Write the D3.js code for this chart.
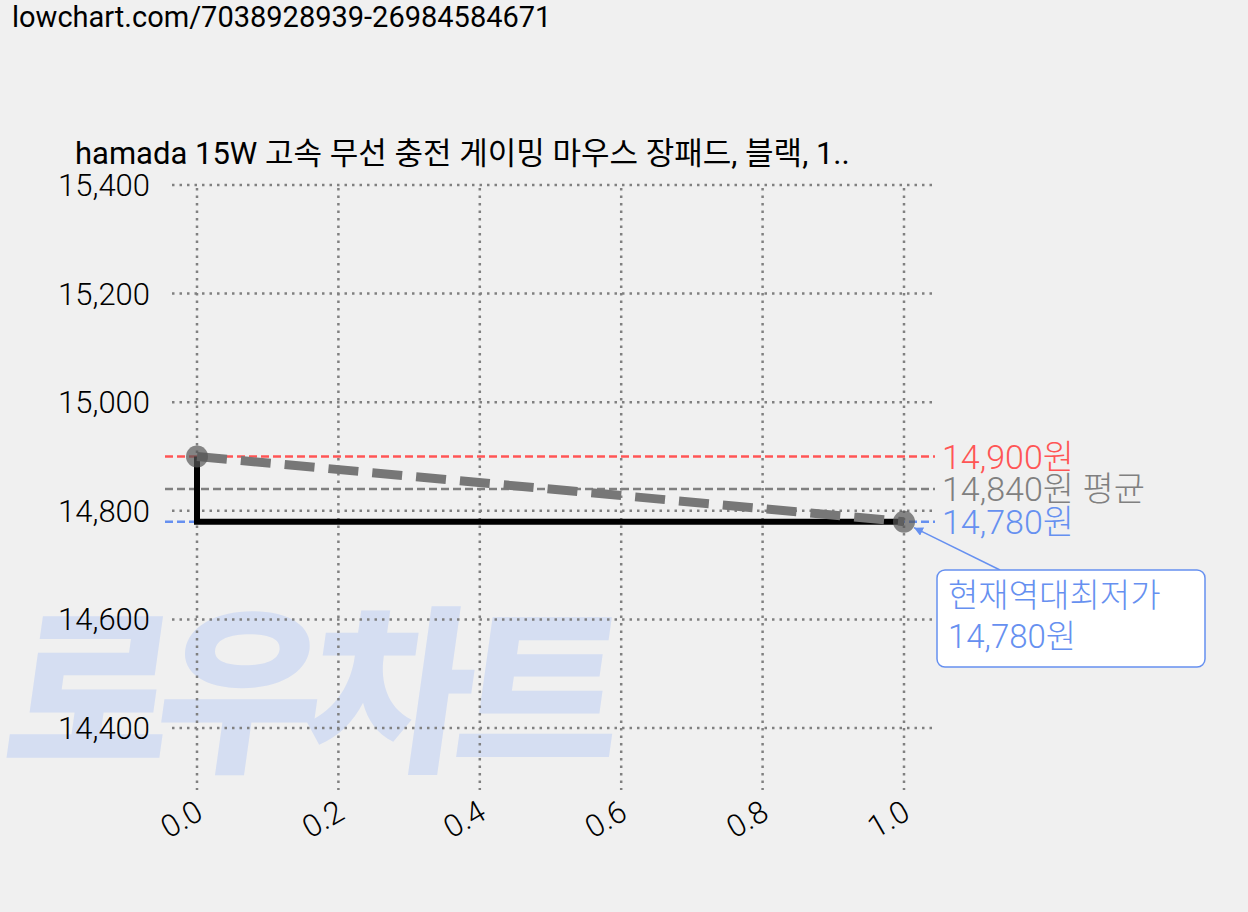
<!DOCTYPE html>
<html>
<head>
<meta charset="utf-8">
<script src="https://cdn.jsdelivr.net/npm/d3@7"></script>
<style>
body{margin:0;background:#f0f0f0;}
svg{font-family:Roboto,"Noto Sans CJK KR","Noto Sans",sans-serif;font-weight:300;}
</style>
</head>
<body>
<script>
//chart values
var xs = [0, 1];
var prices = [14900, 14780];
var yTicks = [14400, 14600, 14800, 15000, 15200, 15400];
var xTicks = [0, 0.2, 0.4, 0.6, 0.8, 1.0];
var refLines = [
    {v: 14900, label: "14,900원", color: "#ff5555"},
    {v: 14840, label: "14,840원 평균", color: "#808080"},
    {v: 14780, label: "14,780원", color: "#6690f0"}
];

var width = 1248, height = 912;
var svg = d3.select("body").append("svg").attr("width", width).attr("height", height);

var x = d3.scaleLinear().domain([0, 1]).range([197, 904]);
var y = d3.scaleLinear().domain([14400, 15400]).range([728, 185]);

//watermark
svg.append("text").attr("transform", "translate(0,758) skewX(-8)")
    .style("font-size", "180px").style("font-weight", "900")
    .style("font-family", "Noto Sans CJK KR")
    .style("fill", "#d5def2").attr("textLength", 615)
    .text("로우차트");

//url header
svg.append("text").attr("x", 12).attr("y", 27).style("font-size", "29px").style("font-weight", "400").text("lowchart.com/7038928939-26984584671");
//title
svg.append("text").attr("x", 75).attr("y", 164).style("font-size", "31px").style("font-weight", "400").text("hamada 15W 고속 무선 충전 게이밍 마우스 장패드, 블랙, 1..");

//grid
svg.selectAll(".hg").data(yTicks).enter().append("line")
    .attr("x1", 172).attr("x2", 935).attr("y1", d => y(d)).attr("y2", d => y(d))
    .attr("stroke", "#808080").attr("stroke-width", 2.5).attr("stroke-dasharray", "2.5,5");
svg.selectAll(".vg").data(xTicks).enter().append("line")
    .attr("x1", d => x(d)).attr("x2", d => x(d)).attr("y1", 188).attr("y2", 790)
    .attr("stroke", "#808080").attr("stroke-width", 2.5).attr("stroke-dasharray", "2.5,5");

//y labels
svg.selectAll(".yl").data(yTicks).enter().append("text")
    .attr("x", 150).attr("y", d => y(d) + 11).attr("text-anchor", "end")
    .style("font-size", "31px").text(d => d3.format(",")(d));
//x labels
svg.selectAll(".xl").data(xTicks).enter().append("text")
    .attr("transform", d => "translate(" + (x(d) + 8) + ",818) rotate(-30)")
    .attr("text-anchor", "end").style("font-size", "31px").text(d => d.toFixed(1));

//reference lines
refLines.forEach(function(r){
    svg.append("line").attr("x1", 165).attr("x2", 935).attr("y1", y(r.v)).attr("y2", y(r.v))
        .attr("stroke", r.color).attr("stroke-width", 2.5).attr("stroke-dasharray", "8,4");
    svg.append("text").attr("x", 942).attr("y", y(r.v) + 12).style("font-size", "34px")
        .style("fill", r.color).text(r.label);
});

var pts = xs.map((d, i) => [d, prices[i]]);
//step line
svg.append("path").datum(pts)
    .attr("d", d3.line().x(d => x(d[0])).y(d => y(d[1])).curve(d3.curveStepBefore))
    .attr("fill", "none").attr("stroke", "#000").attr("stroke-width", 6);
//trend dashed
svg.append("path").datum(pts)
    .attr("d", d3.line().x(d => x(d[0])).y(d => y(d[1])))
    .attr("fill", "none").attr("stroke", "#777").attr("stroke-width", 9).attr("stroke-dasharray", "30,14");
svg.selectAll(".pt").data(pts).enter().append("circle")
    .attr("cx", d => x(d[0])).attr("cy", d => y(d[1])).attr("r", 11)
    .attr("fill", "#555").attr("fill-opacity", 0.7);

//annotation
svg.append("defs").append("marker").attr("id", "ar").attr("viewBox", "0 0 10 10")
    .attr("refX", 10).attr("refY", 5).attr("markerWidth", 6).attr("markerHeight", 6).attr("orient", "auto")
    .append("path").attr("d", "M0,0L10,5L0,10z").attr("fill", "#6690f0");
svg.append("line").attr("x1", 1000).attr("y1", 570).attr("x2", x(1) + 10).attr("y2", y(14780) + 6)
    .attr("stroke", "#6690f0").attr("stroke-width", 1.5).attr("marker-end", "url(#ar)");
svg.append("rect").attr("x", 937).attr("y", 570).attr("width", 268).attr("height", 97).attr("rx", 8)
    .attr("fill", "#fff").attr("stroke", "#6690f0").attr("stroke-width", 1.5);
svg.append("text").attr("x", 948).attr("y", 607).style("font-size", "33px").style("fill", "#6690f0").text("현재역대최저가");
svg.append("text").attr("x", 948).attr("y", 648).style("font-size", "33px").style("fill", "#6690f0").text("14,780원");
</script>
</body>
</html>
